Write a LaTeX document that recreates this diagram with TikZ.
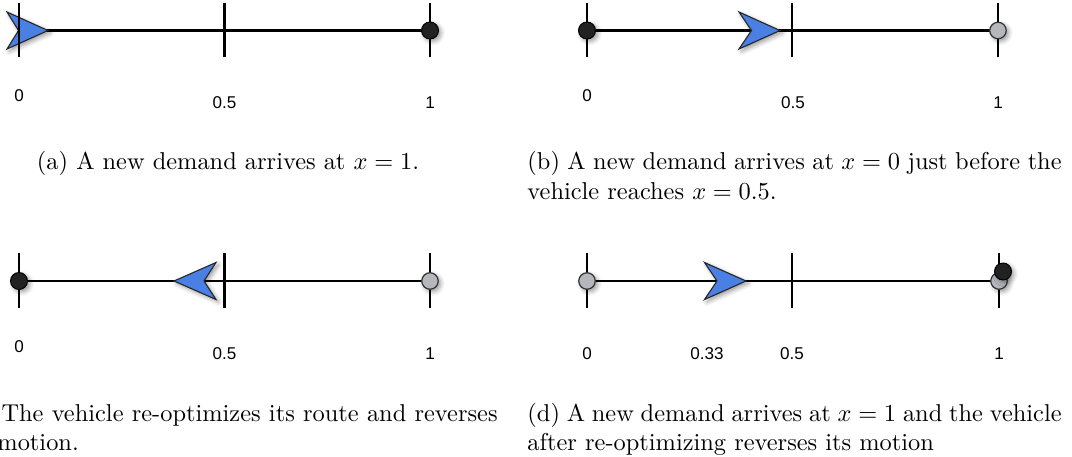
\documentclass[tikz,border=0pt]{standalone}
\usepackage{fontspec}
\newfontfamily\labelfont{Liberation Sans}
\usetikzlibrary{shadows.blur}
\definecolor{vblue}{HTML}{4A7FE4}
\definecolor{dotdark}{HTML}{222222}
\definecolor{dotgrey}{HTML}{B6B6BD}
\tikzset{
  axisline/.style={line width=0.85pt, black},
  tickline/.style={line width=0.85pt, black},
  softshadow/.style={blur shadow={shadow xshift=1pt, shadow yshift=-1pt, shadow blur radius=1.8pt, shadow opacity=40}},
  darkdot/.style={circle, minimum size=17*0.41pt, inner sep=0, fill=dotdark, draw=black, line width=0.4pt, softshadow},
  greydot/.style={circle, minimum size=16.5*0.41pt, inner sep=0, fill=dotgrey, draw=black!80, line width=0.5pt, softshadow},
  vehicle/.style={fill=vblue, draw=black!85, line width=0.45pt, line join=miter, softshadow},
  lbl/.style={font=\labelfont\fontsize{7}{8}\selectfont, inner sep=0},
  captext/.style={font=\fontsize{10}{12}\selectfont, inner sep=0}
}
\begin{document}
\begin{tikzpicture}[x=0.41pt,y=-0.41pt]
\useasboundingbox (0,0) rectangle (1072,457);
\clip (0,0) rectangle (1072,457);
% ---------- panel (a)
\coordinate (a0) at (19,30.5); \coordinate (a5) at (224.5,30.5); \coordinate (a1) at (430,30.5);
\draw[axisline] (a0) -- (a1);
\draw[vehicle] (48,30.5) -- ++(-41,-18.5) -- ++(11.5,18.5) -- ++(-11.5,18.5) -- cycle;
\foreach \p in {a0,a5,a1} \draw[tickline] ([yshift=-27*0.41pt]\p) -- ([yshift=27.5*0.41pt]\p);
\node[darkdot] (adot) at (a1) {};
\node[lbl] (al0) at (19,95.5) {0};
\node[lbl] (al5) at (224.5,103) {0.5};
\node[lbl] (al1) at (430,103) {1};
\node[captext, anchor=base] (acap) at (228,170) {(a) A new demand arrives at $x=1$.};
% ---------- panel (b)
\coordinate (b0) at (587,30.5); \coordinate (b5) at (792,30.5); \coordinate (b1) at (998,30.5);
\draw[axisline] (b0) -- (b1);
\foreach \p in {b0,b5,b1} \draw[tickline] ([yshift=-27*0.41pt]\p) -- ([yshift=27.5*0.41pt]\p);
\draw[vehicle] (780,30.5) -- ++(-41,-18.5) -- ++(12.5,18.5) -- ++(-12.5,18.5) -- cycle;
\node[darkdot] (bdot0) at (b0) {};
\node[greydot] (bdot1) at (b1) {};
\node[lbl] (bl0) at (587,95.5) {0};
\node[lbl] (bl5) at (793,103) {0.5};
\node[lbl] (bl1) at (998,103) {1};
\node[captext, anchor=base west] (bcap) at (527,170) {\parbox[t]{219pt}{(b) A new demand arrives at $x=0$ just before the\linebreak vehicle reaches $x=0.5$.}};
% ---------- panel (c)
\coordinate (c0) at (19,281); \coordinate (c5) at (224.5,281); \coordinate (c1) at (430,281);
\draw[axisline] (c0) -- (c1);
\foreach \p in {c0,c5,c1} \draw[tickline] ([yshift=-27*0.41pt]\p) -- ([yshift=27.5*0.41pt]\p);
\draw[vehicle] (174,281) -- ++(42,-18.5) -- ++(-12,18.5) -- ++(12,18.5) -- cycle;
\node[darkdot] (cdot0) at (c0) {};
\node[greydot] (cdot1) at (c1) {};
\node[lbl] (cl0) at (19,346.5) {0};
\node[lbl] (cl5) at (224.5,354) {0.5};
\node[lbl] (cl1) at (430,354) {1};
\node[captext, anchor=base west] (ccap) at (-37,421) {\parbox[t]{219pt}{(c) The vehicle re-optimizes its route and reverses\linebreak its motion.}};
% ---------- panel (d)
\coordinate (d0) at (587,281); \coordinate (d5) at (792,281); \coordinate (d1) at (999,281);
\draw[axisline] (d0) -- (d1);
\foreach \p in {d0,d5,d1} \draw[tickline] ([yshift=-27*0.41pt]\p) -- ([yshift=27.5*0.41pt]\p);
\draw[vehicle] (746,281) -- ++(-41.5,-18.5) -- ++(12.5,18.5) -- ++(-12.5,18.5) -- cycle;
\node[greydot] (ddot0) at (d0) {};
\node[greydot] (ddot1) at (d1) {};
\node[darkdot] (ddot2) at (1003,271.5) {};
\node[lbl] (dl0) at (587,354) {0};
\node[lbl] (dl33) at (707,354) {0.33};
\node[lbl] (dl5) at (792,354) {0.5};
\node[lbl] (dl1) at (999,354) {1};
\node[captext, anchor=base west] (dcap) at (527,421) {\parbox[t]{219pt}{(d) A new demand arrives at $x=1$ and the vehicle\linebreak after re-optimizing reverses its motion}};
\end{tikzpicture}
\end{document}
